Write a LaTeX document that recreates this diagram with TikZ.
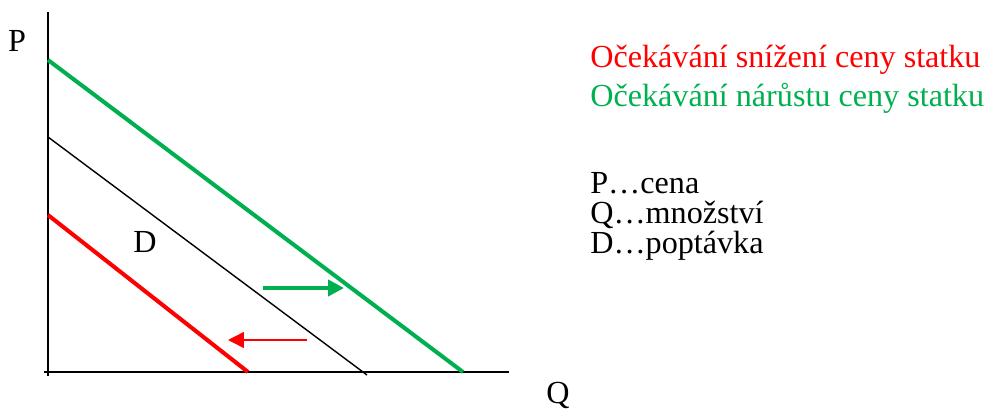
\documentclass[tikz,border=0pt]{standalone}
\usepackage{fontspec}
\setmainfont{Liberation Serif}
\usepackage{tikz}
\usetikzlibrary{arrows.meta,positioning,calc}
\definecolor{cenared}{RGB}{255,0,0}
\definecolor{cenagreen}{RGB}{0,176,80}
\tikzset{
  txt/.style={inner sep=0pt,font=\fontsize{18.3}{20}\selectfont},
  axis/.style={line width=0.8pt,black},
  krivka/.style={line width=2.3pt},
  posun/.style={-{Triangle[length=9pt,width=9pt]}},
}
\begin{document}
\begin{tikzpicture}[x=0.02cm,y=-0.02cm]
			\useasboundingbox (0,0) rectangle (986,412);
			% osy
			\coordinate (O) at (48,372);
			\coordinate (Ptop) at (48,12);
			\coordinate (Qend) at (509,372);
			\draw[axis] ($(O)+(0,4)$) -- (Ptop);
			\draw[axis] ($(O)+(-4,0)$) -- (Qend);
			\node[txt,anchor=base] (P) at (17,52) {P};
			\node[txt,anchor=base] (Q) at (558,403) {Q};
			% krivky poptavky
			\coordinate (g1) at (48,60);  \coordinate (g2) at (463,372);
			\coordinate (d1) at (48,137); \coordinate (d2) at (367,375);
			\coordinate (r1) at (48,215); \coordinate (r2) at (248,372);
			\draw[krivka,cenagreen] (g1) -- (g2);
			\draw[line width=0.8pt] (d1) -- (d2);
			\draw[krivka,cenared] (r1) -- (r2);
			\node[txt,anchor=base] (D) at (145,252) {D};
			% posuny
			\coordinate (ga) at (263,288); \coordinate (gb) at (344,288);
			\coordinate (ra) at (307,340); \coordinate (rb) at (228,340);
			\draw[cenagreen,line width=2.3pt,posun] (ga) -- (gb);
			\draw[cenared,line width=0.8pt,posun] (ra) -- (rb);
			% legenda
			\node[txt,anchor=base west,text=cenared] (leg1) at (590,68) {Očekávání snížení ceny statku};
			\node[txt,anchor=base west,text=cenagreen] (leg2) at (590,107) {Očekávání nárůstu ceny statku};
			\foreach \y/\lab in {193/{P\ldots cena},223/{Q\ldots množství},253/{D\ldots poptávka}}{
				\node[txt,anchor=base west] at (590,\y) {\lab};
			}
		\end{tikzpicture}
\end{document}
